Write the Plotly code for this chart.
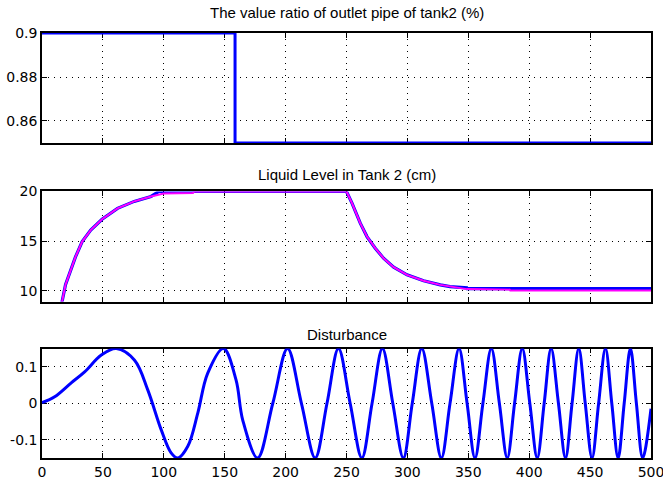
import plotly.graph_objects as go

# ---------------- data ----------------
# Panel 1: valve ratio of outlet pipe of tank 2
valve_t = [0, 158.5, 500]
valve_v = [0.9, 0.85, 0.85]

# Panel 2: liquid level in tank 2 (blue = measured, magenta = model/setpoint)
level_blue_t = [14, 16.5, 19.3, 23.4, 27.5, 33, 40, 49.3, 62, 75.7, 89.5, 96, 250,
                254.5, 257.2, 261.3, 266.8, 273.6, 280.4, 288.7, 299.7, 313.3, 327,
                335, 348.7, 349, 500]
level_blue_v = [8.2, 8.9, 10.6, 12.1, 13.4, 14.95, 16.1, 17.2, 18.3, 19.0, 19.5, 20, 20,
                18.83, 17.98, 16.8, 15.45, 14.28, 13.27, 12.36, 11.59, 11.0, 10.58,
                10.4, 10.28, 10.2, 10.2]
level_mag_t = [14, 16.5, 19.3, 23.4, 27.5, 33, 40, 49.3, 62, 75.7, 89.5, 100, 124, 125, 250,
               254.5, 257.2, 261.3, 266.8, 273.6, 280.4, 288.7, 299.7, 313.3, 327,
               335, 348.7, 384, 384.5, 500]
level_mag_v = [8.2, 8.9, 10.6, 12.1, 13.4, 14.95, 16.1, 17.2, 18.3, 19.0, 19.5, 19.8, 19.85, 20, 20,
               18.83, 17.98, 16.8, 15.45, 14.28, 13.27, 12.36, 11.59, 11.0, 10.58,
               10.4, 10.15, 10.1, 10.0, 10.0]

# Panel 3: disturbance (chirp-like signal)
dist_t = [0, 10.4, 24, 35, 48.7, 61, 76, 86.9, 97.9, 106, 111.5, 119.7, 127.9, 136, 149,
          159.3, 164.8, 177, 189.5, 201.6, 213, 224.3, 234, 243.4, 253, 262.6, 271,
          279.5, 288, 296.7, 304, 311.8, 320, 327.9, 335, 342.4, 349, 355.5, 362,
          368.9, 375.5, 382, 388, 394.3, 400.5, 406.6, 412.3, 418, 424, 429.8, 435.2,
          440.7, 446, 451.6, 457, 462.6, 467.8, 473, 478, 483.1, 488, 493.2, 500]
dist_v = [0.002, 0.018, 0.056, 0.086, 0.132, 0.15, 0.118, 0.036, -0.073, -0.136, -0.15,
          -0.118, -0.027, 0.082, 0.15, 0.064, -0.046, -0.15, 0, 0.15, 0, -0.15, 0,
          0.15, 0, -0.15, 0, 0.15, 0, -0.15, 0, 0.15, 0, -0.15, 0, 0.15, 0, -0.15, 0,
          0.15, 0, -0.15, 0, 0.15, 0, -0.15, 0, 0.15, 0, -0.15, 0, 0.15, 0, -0.15, 0,
          0.15, 0, -0.15, 0, 0.15, 0, -0.15, -0.015]

x_ticks = [0, 50, 100, 150, 200, 250, 300, 350, 400, 450, 500]
y1_ticks = [0.86, 0.88, 0.9]
y1_text = ["0.86", "0.88", "0.9"]
y2_ticks = [10, 15, 20]
y3_ticks = [-0.1, 0, 0.1]
y3_text = ["-0.1", "0", "0.1"]

titles = ["The value ratio of outlet pipe of tank2 (%)",
          "Liquid Level in Tank 2 (cm)",
          "Disturbance"]

# ---------------- figure ----------------
BLUE = "rgb(0,0,255)"
MAG = "rgb(255,0,255)"
TICKFONT = "DejaVu Sans, Arial, sans-serif"
TITLEFONT = "Liberation Sans, Arial, sans-serif"

fig = go.Figure()
fig.add_trace(go.Scatter(x=valve_t, y=valve_v, mode="lines", line=dict(color=BLUE, width=3, shape="hv"),
                         xaxis="x", yaxis="y", showlegend=False))
fig.add_trace(go.Scatter(x=level_blue_t, y=level_blue_v, mode="lines", line=dict(color=BLUE, width=3.2),
                         xaxis="x2", yaxis="y2", showlegend=False))
fig.add_trace(go.Scatter(x=level_mag_t, y=level_mag_v, mode="lines", line=dict(color=MAG, width=2),
                         xaxis="x2", yaxis="y2", showlegend=False))
fig.add_trace(go.Scatter(x=dist_t, y=dist_v, mode="lines",
                         line=dict(color=BLUE, width=3, shape="spline", smoothing=1.0),
                         xaxis="x3", yaxis="y3", showlegend=False))

domains = [[0.7412, 1.0], [0.3682, 0.6271], [0.0, 0.2576]]
title_shift = [10, 6, 4]

common = dict(showline=True, linecolor="black", linewidth=1.5, mirror="ticks",
              ticks="inside", ticklen=5, tickcolor="black", tickwidth=1,
              showgrid=True, gridcolor="black", gridwidth=1, griddash="1px,5px",
              zeroline=False, layer="below traces", automargin=False,
              ticklabeloverflow="allow",
              tickfont=dict(family=TICKFONT, size=14, color="black"))

layout = dict(
    width=663, height=486,
    margin=dict(l=42, r=12, t=33, b=28, autoexpand=False),
    paper_bgcolor="white", plot_bgcolor="white",
    font=dict(family=TICKFONT, size=14, color="black"),
)
for i, (dom, ytv, ytt, yr) in enumerate([
        (domains[0], y1_ticks, y1_text, [0.85, 0.9]),
        (domains[1], y2_ticks, [str(v) for v in y2_ticks], [8.9, 20]),
        (domains[2], y3_ticks, y3_text, [-0.15, 0.15])]):
    n = "" if i == 0 else str(i + 1)
    layout["xaxis" + n] = dict(common, domain=[0, 1], range=[0, 500], tickvals=x_ticks,
                               ticktext=[str(v) for v in x_ticks],
                               showticklabels=(i == 2), anchor="y" + n)
    layout["yaxis" + n] = dict(common, domain=dom, range=yr, tickvals=ytv, ticktext=ytt,
                               anchor="x" + n)

annotations = []
for dom, t, ys in zip(domains, titles, title_shift):
    annotations.append(dict(text=t, x=0.5, y=dom[1], xref="paper", yref="paper",
                            xanchor="center", yanchor="bottom", yshift=ys, showarrow=False,
                            font=dict(family=TITLEFONT, size=15, color="black")))
layout["annotations"] = annotations

fig.update_layout(**layout)
fig.write_html("out.html")
